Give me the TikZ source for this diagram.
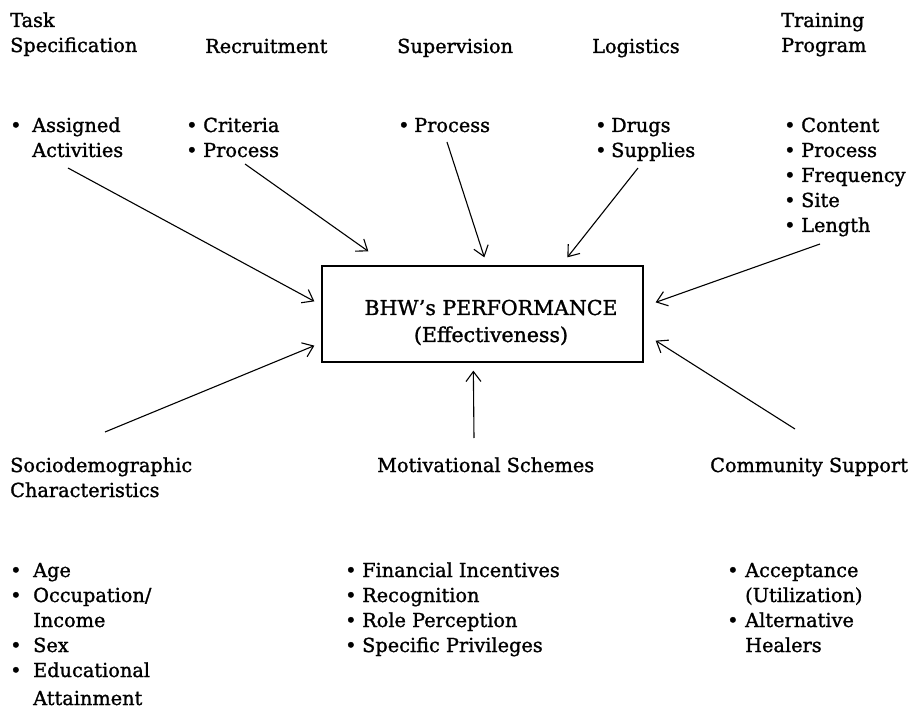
\documentclass[tikz,border=0pt]{standalone}
\usepackage{fontspec}
\setmainfont{DejaVu Serif}[FakeBold=1.3]
\usetikzlibrary{arrows.meta}
\newcommand\bul[1]{\makebox[#1][l]{•}}
\newcommand\cnt[1]{\hspace*{#1}}
\tikzset{
  lbl/.style={anchor=base west, inner sep=0pt, font=\fontsize{19.3}{25}\selectfont},
  perfbox/.style={draw, line width=1.3pt, minimum width=321pt, minimum height=96pt, inner sep=0pt},
  arr/.style={line width=1.1pt, -{Straight Barb[length=10pt,width=15pt]}}
}
\newcommand\tb[1]{\renewcommand\arraystretch{1}\begin{tabular}[t]{@{}l@{}}#1\end{tabular}}
\begin{document}
\begin{tikzpicture}[x=1pt,y=-1pt]
\useasboundingbox (0,0) rectangle (922,714);
% top labels
\node[lbl] (task) at (10,27) {\tb{Task\\Specification}};
\node[lbl] (recr) at (205,53) {Recruitment};
\node[lbl] (sup) at (397,53) {Supervision};
\node[lbl] (log) at (592,53) {Logistics};
\node[lbl] (train) at (781,27) {\tb{Training\\Program}};
% top lists
\node[lbl] (taskl) at (10,132) {\tb{\bul{22pt}Assigned\\\cnt{22pt}Activities}};
\node[lbl] (recrl) at (186,132) {\tb{\bul{17pt}Criteria\\\bul{17pt}Process}};
\node[lbl] (supl) at (398,132) {\tb{\bul{16pt}Process}};
\node[lbl] (logl) at (595,132) {\tb{\bul{16pt}Drugs\\\bul{16pt}Supplies}};
\node[lbl] (trainl) at (784,132) {\tb{\bul{17pt}Content\\\bul{17pt}Process\\\bul{17pt}Frequency\\\bul{17pt}Site\\\bul{17pt}Length}};
% central box
\node[perfbox] (perf) at (482.5,314) {};
\node[lbl, anchor=base, font=\fontsize{20.5}{27}\selectfont] (perft) at (491,315) {\tb{\hfil BHW’s PERFORMANCE\hfil\\\hfil(Effectiveness)\hfil}};
% bottom labels
\node[lbl] (socio) at (10,472) {\tb{Sociodemographic\\Characteristics}};
\node[lbl] (motiv) at (377,472) {Motivational Schemes};
\node[lbl] (comm) at (710,472) {Community Support};
% bottom lists
\node[lbl] (sociol) at (10,577) {\tb{\bul{23pt}Age\\\bul{23pt}Occupation/\\\cnt{23pt}Income\\\bul{23pt}Sex\\\bul{23pt}Educational\\[3pt]\cnt{23pt}Attainment}};
\node[lbl] (motivl) at (345,577) {\tb{\bul{17pt}Financial Incentives\\\bul{17pt}Recognition\\\bul{17pt}Role Perception\\\bul{17pt}Specific Privileges}};
\node[lbl] (comml) at (727,577) {\tb{\bul{18pt}Acceptance\\\cnt{18pt}(Utilization)\\\bul{18pt}Alternative\\\cnt{18pt}Healers}};
% arrow tails
\coordinate (t1) at (68,168);
\coordinate (t2) at (245,164);
\coordinate (t3) at (447,142);
\coordinate (t4) at (638,168);
\coordinate (t5) at (820,244);
\coordinate (t6) at (105,432);
\coordinate (t7) at (474,438);
\coordinate (t8) at (795,429);
% arrows
\draw[arr] (t1) -- ([shift={(-7,36)}]perf.north west);
\draw[arr] (t2) -- ([shift={(47,-14)}]perf.north west);
\draw[arr] (t3) -- ([shift={(163,-8)}]perf.north west);
\draw[arr] (t4) -- ([shift={(246,-8)}]perf.north west);
\draw[arr] (t5) -- ([shift={(12,37)}]perf.north east);
\draw[arr] (t6) -- ([shift={(-7,-17)}]perf.south west);
\draw[arr] (t7) -- ([shift={(152,8)}]perf.south west);
\draw[arr] (t8) -- ([shift={(12,-22)}]perf.south east);
\end{tikzpicture}
\end{document}
